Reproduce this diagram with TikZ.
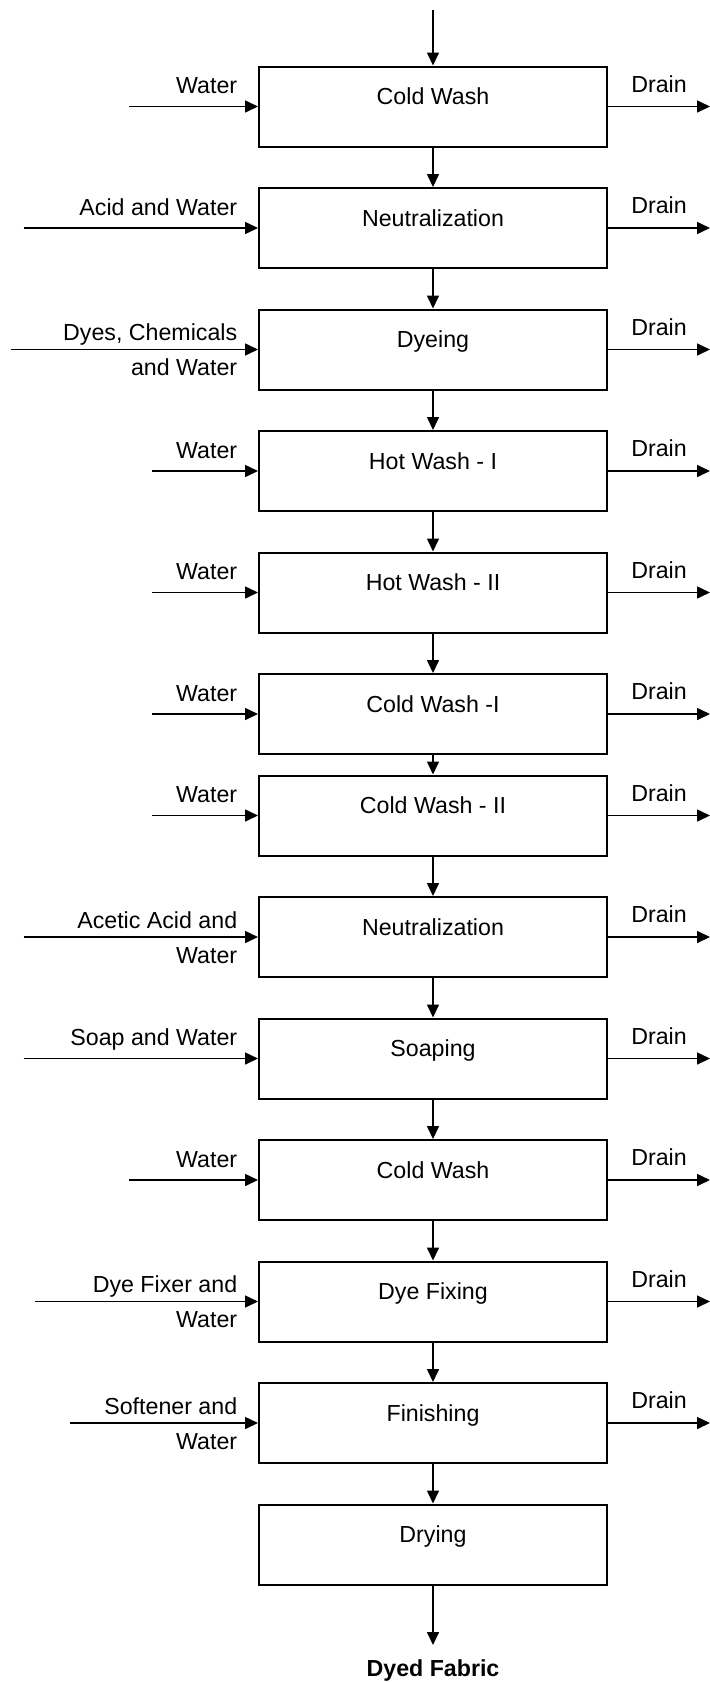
\documentclass[tikz,border=0pt]{standalone}
\usepackage{fontspec}
\setmainfont{Liberation Sans}
\usepackage{tikz}
\usetikzlibrary{positioning,arrows.meta,quotes}

\begin{document}
\begin{tikzpicture}[x=0.5pt, y=-0.5pt, ->, >={Triangle[length=6.5pt,width=6pt]}, line width=0.8pt, main/.style = {rectangle, draw, line width=1pt, minimum width=174pt, minimum height=40pt, inner sep=0pt, text height=9pt, text depth=10.7pt, font=\fontsize{11.6}{14}\selectfont}, feed/.style = {inner sep=0pt, anchor=base east, align=right, font=\fontsize{11.6}{17.5}\selectfont}, every edge quotes/.style = {inner sep=0pt, above=6.5pt, font=\fontsize{11.6}{14}\selectfont}]

\useasboundingbox (0,0) rectangle (710,1682);

% process steps
\node[main] (1) at (433,106.5) {Cold Wash};
\node[main] (2) at (433,228) {Neutralization};
\node[main] (3) at (433,349.5) {Dyeing};
\node[main] (4) at (433,471) {Hot Wash - I};
\node[main] (5) at (433,592.5) {Hot Wash - II};
\node[main] (6) at (433,714) {Cold Wash -I};
\node[main] (7) at (433,815.5) {Cold Wash - II};
\node[main] (8) at (433,937) {Neutralization};
\node[main] (9) at (433,1058.5) {Soaping};
\node[main] (10) at (433,1180) {Cold Wash};
\node[main] (11) at (433,1301.5) {Dye Fixing};
\node[main] (12) at (433,1423) {Finishing};
\node[main] (13) at (433,1544.5) {Drying};

\coordinate (in) at (433,10);
\coordinate (out) at (433,1645);
\node[inner sep=0pt, anchor=base, font=\fontsize{11.6}{14}\selectfont\bfseries] (fab) at (433,1676) {Dyed Fabric};

% inputs
\coordinate (w1) at (129,106.5);
\coordinate (w2) at (23.6,228);
\coordinate (w3) at (10.7,349.5);
\coordinate (w4) at (152,471);
\coordinate (w5) at (152,592.5);
\coordinate (w6) at (152,714);
\coordinate (w7) at (152,815.5);
\coordinate (w8) at (23.6,937);
\coordinate (w9) at (23.6,1058.5);
\coordinate (w10) at (128.5,1180);
\coordinate (w11) at (35,1301.5);
\coordinate (w12) at (70,1423);

\node[feed] (t1) at (238,93.5) {Water};
\node[feed] (t2) at (238,215) {Acid and Water};
\node[feed] (t3) at (238,375.8) {Dyes, Chemicals\\and Water};
\node[feed] (t4) at (238,458) {Water};
\node[feed] (t5) at (238,579.5) {Water};
\node[feed] (t6) at (238,701) {Water};
\node[feed] (t7) at (238,802.5) {Water};
\node[feed] (t8) at (238,963.3) {Acetic Acid and\\Water};
\node[feed] (t9) at (238,1045.5) {Soap and Water};
\node[feed] (t10) at (238,1167) {Water};
\node[feed] (t11) at (238,1327.8) {Dye Fixer and\\Water};
\node[feed] (t12) at (238,1449.3) {Softener and\\Water};

% drains
\coordinate (d1) at (710,106.5);
\coordinate (d2) at (710,228);
\coordinate (d3) at (710,349.5);
\coordinate (d4) at (710,471);
\coordinate (d5) at (710,592.5);
\coordinate (d6) at (710,714);
\coordinate (d7) at (710,815.5);
\coordinate (d8) at (710,937);
\coordinate (d9) at (710,1058.5);
\coordinate (d10) at (710,1180);
\coordinate (d11) at (710,1301.5);
\coordinate (d12) at (710,1423);

\path
 (in) edge (1)
 (1) edge (2)
 (2) edge (3)
 (3) edge (4)
 (4) edge (5)
 (5) edge (6)
 (6) edge (7)
 (7) edge (8)
 (8) edge (9)
 (9) edge (10)
 (10) edge (11)
 (11) edge (12)
 (12) edge (13)
 (13) edge (out);

\path
 (w1) edge (1)
 (w2) edge (2)
 (w3) edge (3)
 (w4) edge (4)
 (w5) edge (5)
 (w6) edge (6)
 (w7) edge (7)
 (w8) edge (8)
 (w9) edge (9)
 (w10) edge (10)
 (w11) edge (11)
 (w12) edge (12);

\path
 (1) edge["Drain"] (d1)
 (2) edge["Drain"] (d2)
 (3) edge["Drain"] (d3)
 (4) edge["Drain"] (d4)
 (5) edge["Drain"] (d5)
 (6) edge["Drain"] (d6)
 (7) edge["Drain"] (d7)
 (8) edge["Drain"] (d8)
 (9) edge["Drain"] (d9)
 (10) edge["Drain"] (d10)
 (11) edge["Drain"] (d11)
 (12) edge["Drain"] (d12);
\end{tikzpicture}
\end{document}
